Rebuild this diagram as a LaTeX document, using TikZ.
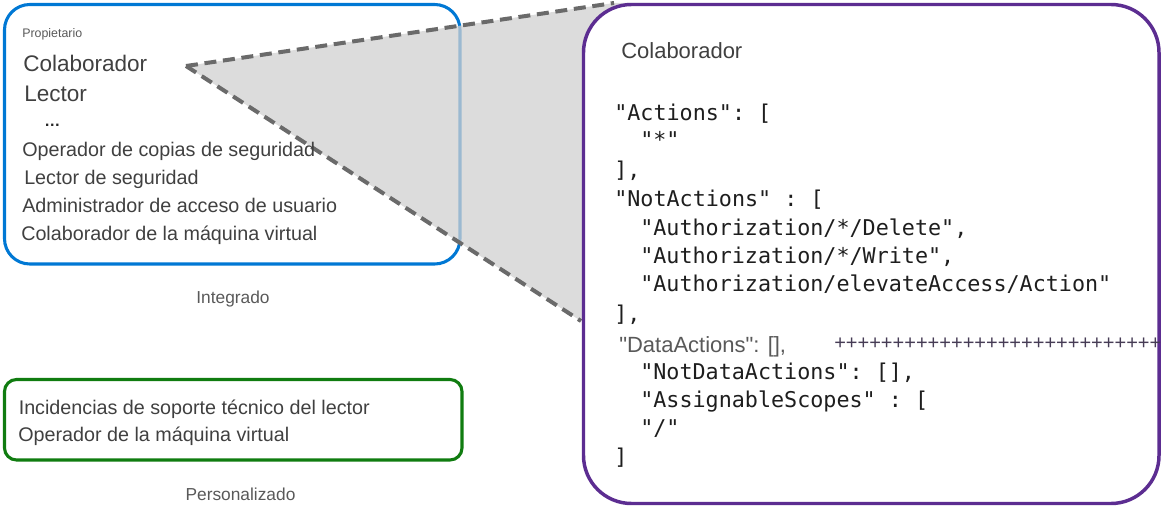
\documentclass[tikz,border=0pt]{standalone}
\usepackage{fontspec}
\setmainfont{Liberation Sans}[Ligatures=TeXOff]
\setmonofont{DejaVu Sans Mono}
\usepackage{tikz}
\usetikzlibrary{positioning}
\definecolor{builtinblue}{HTML}{0078D4}
\definecolor{customgreen}{HTML}{107C10}
\definecolor{rolepurple}{HTML}{5C2D91}
\definecolor{zoomgray}{HTML}{D0D0D0}
\definecolor{dashgray}{HTML}{6A6A6A}
\definecolor{textgray}{HTML}{404040}
\definecolor{capgray}{HTML}{595959}
\definecolor{codeblack}{HTML}{1E1E1E}
\definecolor{plusgray}{HTML}{463C55}
\tikzstyle{rolebox} = [line width=2.3pt]
\tikzstyle{role} = [anchor=base west, inner sep=0pt, text=textgray, font=\fontsize{14.8}{17}\selectfont]
\tikzstyle{bigrole} = [role, font=\fontsize{16.9}{19}\selectfont]
\tikzstyle{caption} = [anchor=base, inner sep=0pt, text=capgray, font=\fontsize{13}{15}\selectfont]
\tikzstyle{code} = [anchor=base west, inner sep=0pt, text=codeblack, font=\ttfamily\fontsize{16.3}{19}\selectfont]
\tikzstyle{zoomline} = [line width=3pt, dash pattern=on 9pt off 5pt, draw=dashgray]

\begin{document}
\begin{tikzpicture}[x=0.75pt, y=-0.75pt]
\useasboundingbox (0,0) rectangle (1163,510);

\coordinate (apex) at (186,66);
\coordinate (topend) at (614,3);
\coordinate (botend) at (581,321);

% built-in and custom role boxes
\draw [rolebox, draw=builtinblue, rounded corners=19pt] (4.5,4.5) rectangle (460,264);
\draw [rolebox, draw=customgreen, rounded corners=9pt] (4.5,379.5) rectangle (462,460);

% zoom wedge
\fill [zoomgray, fill opacity=0.75] (apex) -- (topend) -- (650,3) -- (650,321) -- (botend) -- cycle;
\draw [zoomline] (apex) -- (topend);
\draw [zoomline] (apex) -- (botend);

% role definition box
\draw [rolebox, line width=2.6pt, draw=rolepurple, fill=white, rounded corners=36pt] (583.5,4.5) rectangle (1159,503.5);

\node (owner) [role, text=capgray, font=\fontsize{9.3}{11}\selectfont] at (22,37.7) {Propietario};
\node (contrib) [bigrole] at (23,71) {Colaborador};
\node (reader) [bigrole] at (24,101.7) {Lector};
\node (dots) [role, text=black!85, font=\bfseries\fontsize{12}{14}\selectfont] at (44,126) {…};
\node (backup) [role] at (22,156) {Operador de copias de seguridad};
\node (secreader) [role] at (24,184) {Lector de seguridad};
\node (useradmin) [role] at (22,212) {Administrador de acceso de usuario};
\node (vmcontrib) [role] at (21,240.7) {Colaborador de la máquina virtual};
\node (builtin) [caption] at (233,303.3) {Integrado};

\node (supreader) [role] at (18.5,414.3) {Incidencias de soporte técnico del lector};
\node (vmop) [role] at (18,441.7) {Operador de la máquina virtual};
\node (custom) [caption] at (240.5,500) {Personalizado};

\node (title) [bigrole, font=\fontsize{16.5}{19}\selectfont] at (621,59) {Colaborador};
\node (c1) [code] at (614,120) {"Actions": [};
\node (c2) [code] at (640,147) {"*"};
\node (c3) [code] at (614,177) {],};
\node (c4) [code] at (614,206.7) {"NotActions" : [};
\node (c5) [code] at (640,235) {"Authorization/*/Delete",};
\node (c6) [code] at (640,263.3) {"Authorization/*/Write",};
\node (c7) [code] at (640,291.7) {"Authorization/elevateAccess/Action"};
\node (c8) [code] at (614,321) {],};
\node (c9) [role, text=capgray, font=\fontsize{16.5}{19}\selectfont] at (619,352.7) {"DataActions": [],};
\node (pluses) [role, text=plusgray, font=\fontsize{15}{17}\selectfont] at (834,349) {++++++++++++++++++++++++++++};
\node (c10) [code] at (640,379) {"NotDataActions": [],};
\node (c11) [code] at (640,407.7) {"AssignableScopes" : [};
\node (c12) [code] at (640,435) {"/"};
\node (c13) [code] at (614,464) {]};
\end{tikzpicture}
\end{document}
